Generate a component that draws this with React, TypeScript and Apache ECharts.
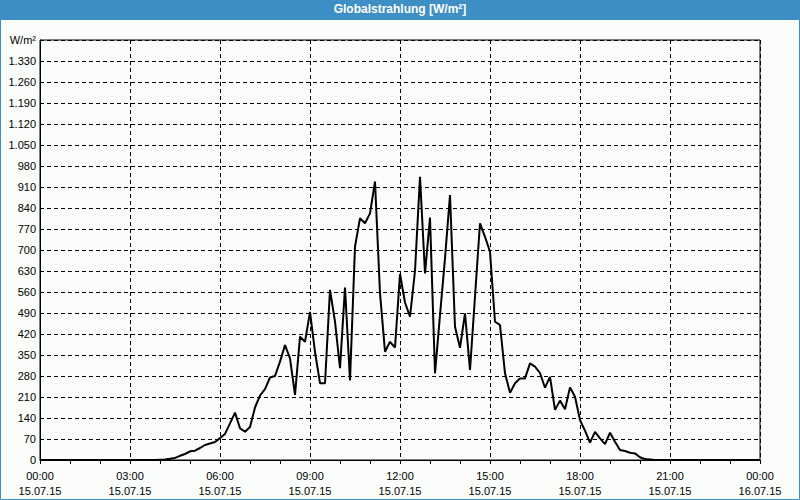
import React, { useEffect, useRef } from "react";
import * as echarts from "echarts";

// 10-minute readings from 00:00 (15.07.15) to 00:00 (16.07.15), W/m²
const stepMinutes = 10;
const values: number[] = [
  0, 0, 0, 0, 0, 0, 0, 0, 0, 0, 0, 0,
  0, 0, 0, 0, 0, 0, 0, 0, 0, 0, 0, 0,
  1, 2, 4, 7, 14, 20, 29, 31, 40, 50, 55, 60,
  73, 87, 122, 158, 106, 94, 110, 175, 215, 236, 275, 280,
  328, 383, 339, 217, 411, 394, 494, 360, 256, 256, 567, 461,
  306, 575, 265, 711, 806, 789, 822, 928, 556, 361, 394, 375,
  620, 525, 478, 630, 944, 622, 808, 289, 483, 672, 883, 444,
  374, 489, 300, 545, 789, 744, 694, 461, 450, 289, 224, 256,
  272, 272, 322, 311, 290, 241, 277, 167, 198, 169, 242, 211,
  133, 98, 58, 94, 72, 53, 91, 61, 33, 30, 24, 22,
  9, 3, 2, 0, 0, 0, 0, 0, 0, 0, 0, 0,
  0, 0, 0, 0, 0, 0, 0, 0, 0, 0, 0, 0,
  0,
];
const dayLabel = "15.07.15";
const nextDayLabel = "16.07.15";
const titleText = "Globalstrahlung [W/m²]";
const unitLabel = "W/m²";
const yMax = 1400;
const yStep = 70;

function fmtThousands(v: number): string {
  const s = String(Math.round(v));
  return s.replace(/\B(?=(\d{3})+(?!\d))/g, ".");
}

export default function App() {
  const ref = useRef<HTMLDivElement>(null);
  useEffect(() => {
    if (!ref.current) return;
    const chart = echarts.init(ref.current, undefined, { renderer: "svg" });
    const data = values.map((v, i) => [i * stepMinutes, v]);
    const font = "Liberation Sans, Arial, sans-serif";
    chart.setOption({
      animation: false,
      backgroundColor: "#fafdfa",
      title: {
        text: titleText,
        left: "center",
        top: 3,
        padding: 0,
        textStyle: { color: "#fff", fontWeight: "bold", fontSize: 12, fontFamily: font },
        z: 10,
      },
      graphic: [
        { type: "rect", z: 1, shape: { x: 0, y: 0, width: 800, height: 20 }, style: { fill: "#3d8fc6" } },
        { type: "rect", z: 1, shape: { x: 0.5, y: 0.5, width: 799, height: 499 }, style: { fill: "none", stroke: "#3d8fc6", lineWidth: 1 } },
      ],
      grid: {
        left: 40, right: 40, top: 40, bottom: 40,
        show: true, borderColor: "#000", borderWidth: 1, backgroundColor: "transparent",
      },
      xAxis: {
        type: "value",
        min: 0,
        max: 1440,
        interval: 180,
        axisLine: { show: true, lineStyle: { color: "#000", width: 1 } },
        axisTick: { show: true, length: 4, lineStyle: { color: "#000" } },
        minorTick: { show: true, splitNumber: 3, length: 4, lineStyle: { color: "#000" } },
        splitLine: { show: true, lineStyle: { color: "#000", type: [4, 3], width: 1 } },
        axisLabel: {
          color: "#000",
          fontSize: 11,
          fontFamily: font,
          lineHeight: 15,
          margin: 8,
          showMinLabel: true,
          showMaxLabel: true,
          formatter: (m: number) => {
            const h = Math.floor(m / 60) % 24;
            const mm = m % 60;
            const t = String(h).padStart(2, "0") + ":" + String(mm).padStart(2, "0");
            return t + "\n" + (m >= 1440 ? nextDayLabel : dayLabel);
          },
        },
      },
      yAxis: {
        type: "value",
        min: 0,
        max: yMax,
        interval: yStep,
        axisLine: { show: true, lineStyle: { color: "#000", width: 1 } },
        axisTick: { show: false },
        splitLine: { show: true, lineStyle: { color: "#000", type: [4, 3], width: 1 } },
        axisLabel: {
          color: "#000",
          fontSize: 11,
          fontFamily: font,
          margin: 4,
          showMaxLabel: true,
          formatter: (v: number) => (v >= yMax ? unitLabel : fmtThousands(v)),
        },
      },
      series: [
        {
          type: "line",
          data,
          showSymbol: false,
          symbol: "none",
          lineStyle: { color: "#000", width: 2 },
          z: 5,
        },
      ],
    });
    return () => chart.dispose();
  }, []);
  return (
    <div
      ref={ref}
      style={{ position: "fixed", left: 0, top: 0, width: 800, height: 500 }}
    />
  );
}
